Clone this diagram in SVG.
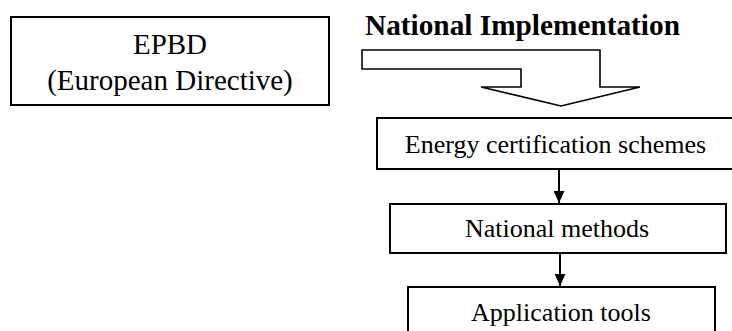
<svg xmlns="http://www.w3.org/2000/svg" width="732" height="331" viewBox="0 0 732 331">
  <style>
    .box { fill: #ffffff; stroke: #000000; stroke-width: 2; }
    .txt { font-family: "Liberation Serif", "Times New Roman", serif; fill: #000000; text-anchor: middle; }
    .big { font-size: 29px; }
    .mid { font-size: 26px; }
    .title { font-family: "Liberation Serif", "Times New Roman", serif; font-size: 29.3px; font-weight: bold; fill: #000000; }
    .conn { stroke: #000000; stroke-width: 2; fill: none; }
    .bigarrow { fill: #ffffff; stroke: #000000; stroke-width: 1.6; stroke-linejoin: miter; }
  </style>
  <defs>
    <marker id="ah" viewBox="0 0 12 11" refX="12" refY="5.5" markerWidth="12" markerHeight="11" markerUnits="userSpaceOnUse" orient="auto">
      <path d="M0,0 L12,5.5 L0,11 Z" fill="#000000"/>
    </marker>
  </defs>

  <g id="epbd">
    <rect class="box" x="11" y="17" width="318" height="88"/>
    <text class="txt big" x="170" y="54">EPBD</text>
    <text class="txt big" x="170" y="90">(European Directive)</text>
  </g>

  <g id="national-implementation">
    <text class="title" x="365" y="35">National Implementation</text>
    <polygon class="bigarrow" points="362,50 600,50 600,87 640,87 561,106 481,87 521,87 521,69 362,69"/>
  </g>

  <g id="energy-certification">
    <rect class="box" x="377" y="118" width="360" height="51"/>
    <text class="txt mid" x="555.5" y="153">Energy certification schemes</text>
  </g>

  <g id="national-methods">
    <rect class="box" x="390" y="204" width="336" height="49"/>
    <text class="txt mid" x="557" y="237">National methods</text>
  </g>

  <g id="application-tools">
    <rect class="box" x="408" y="287" width="307" height="60"/>
    <text class="txt mid" x="561" y="321">Application tools</text>
  </g>

  <g id="connectors">
    <line class="conn" x1="559" y1="170" x2="559" y2="203" marker-end="url(#ah)"/>
    <line class="conn" x1="560" y1="254" x2="560" y2="286" marker-end="url(#ah)"/>
  </g>
</svg>
